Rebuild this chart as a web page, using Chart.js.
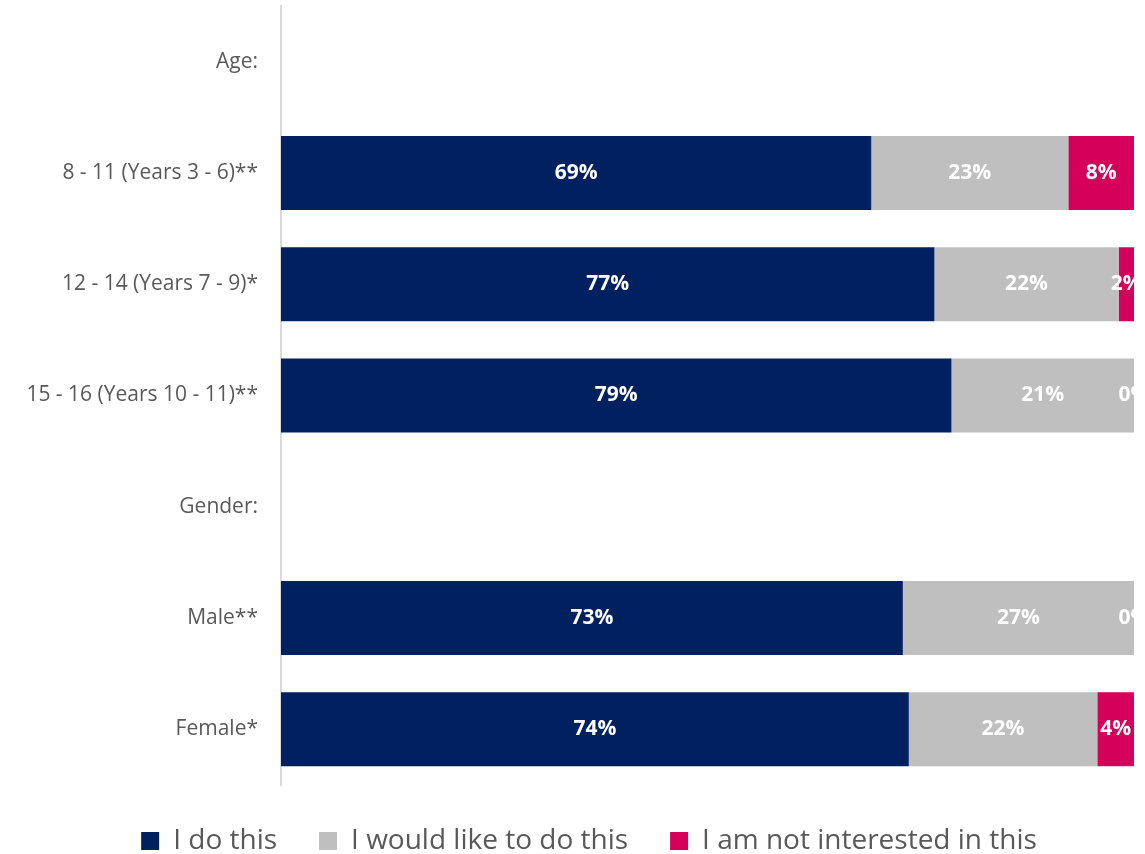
<!DOCTYPE html>
<html>
<head>
<meta charset="utf-8">
<script src="https://cdn.jsdelivr.net/npm/chart.js@4"></script>
<style>
    html, body { margin: 0; padding: 0; background: #fff; }
    #wrap { width: 1145px; height: 854px; }
</style>
</head>
<body>
<div id="wrap"><canvas id="interestChart"></canvas></div>
<script>
// Chart data (shares in %, labels show them rounded)
const categories = ['Age:', '8 - 11 (Years 3 - 6)**', '12 - 14 (Years 7 - 9)*', '15 - 16 (Years 10 - 11)**', 'Gender:', 'Male**', 'Female*'];
const doThis = [null, 69.2, 76.6, 78.6, null, 72.9, 73.6];
const likeToDo = [null, 23.1, 21.6, 21.4, null, 27.1, 22.1];
const notInterested = [null, 7.7, 1.8, 0, null, 0, 4.3];
const seriesNames = ['I do this', 'I would like to do this', 'I am not interested in this'];

(function() {
    'use strict';

    const FONT = '"Open Sans", "Noto Sans", sans-serif';

    // white percentage labels in the middle of each segment
    const segmentLabels = {
        id: 'segmentLabels',
        afterLayout(chart) {
            // legend sits a little right of the canvas centre
            chart.legend.left += 44;
        },
        afterDatasetsDraw(chart) {
            const ctx = chart.ctx;
            ctx.save();
            ctx.font = 'bold 21px ' + FONT;
            ctx.fillStyle = '#ffffff';
            ctx.textAlign = 'center';
            ctx.textBaseline = 'middle';
            chart.data.datasets.forEach((ds, di) => {
                const meta = chart.getDatasetMeta(di);
                meta.data.forEach((bar, i) => {
                    const v = ds.data[i];
                    if (v === null || v === undefined) return;
                    const p = bar.getProps(['x', 'y', 'base'], true);
                    ctx.fillText(Math.round(v) + '%', (p.x + p.base) / 2, p.y);
                });
            });
            ctx.restore();
        }
    };

    const ctx = document.getElementById('interestChart');

    new Chart(ctx, {
        type: 'bar',
        data: {
            labels: categories,
            datasets: [
                { label: seriesNames[0], data: doThis, backgroundColor: '#002060' },
                { label: seriesNames[1], data: likeToDo, backgroundColor: '#BFBFBF' },
                { label: seriesNames[2], data: notInterested, backgroundColor: '#D5005A' }
            ]
        },
        options: {
            indexAxis: 'y',
            responsive: true,
            maintainAspectRatio: false,
            animation: false,
            layout: { padding: { top: 6, right: 11, bottom: 0, left: 0 } },
            datasets: {
                bar: { barPercentage: 0.665, categoryPercentage: 1.0, borderWidth: 0 }
            },
            scales: {
                x: {
                    stacked: true,
                    min: 0,
                    max: 100,
                    display: false
                },
                y: {
                    stacked: true,
                    grid: { display: false },
                    border: { color: '#D9D9D9', width: 2 },
                    ticks: {
                        color: '#595959',
                        font: { family: FONT, size: 21 },
                        padding: 15
                    },
                    afterFit(scale) {
                        scale.width = 281;
                        scale.paddingTop = 0;
                        scale.paddingBottom = 0;
                    }
                }
            },
            plugins: {
                legend: {
                    position: 'bottom',
                    maxHeight: 69,
                    labels: {
                        color: '#595959',
                        font: { family: FONT, size: 28 },
                        boxWidth: 18,
                        boxHeight: 18,
                        padding: 42
                    }
                },
                tooltip: { enabled: false }
            }
        },
        plugins: [segmentLabels]
    });
})();
</script>
</body>
</html>
